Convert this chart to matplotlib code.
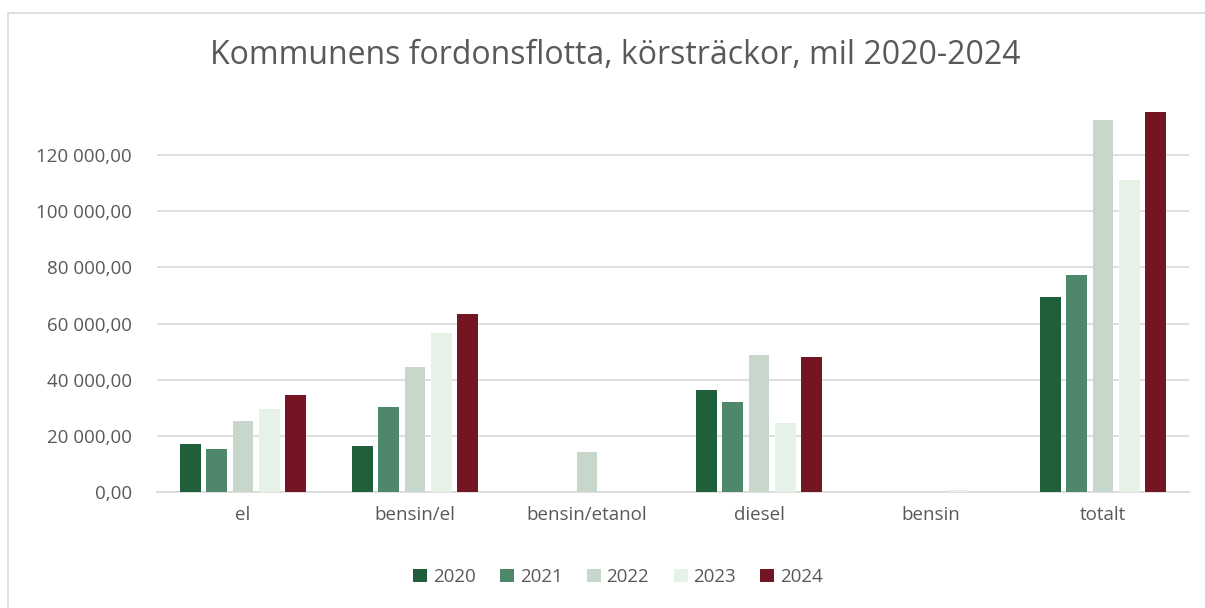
import matplotlib.pyplot as plt
import matplotlib.patches as mpatches
from matplotlib.ticker import FuncFormatter
import numpy as np

plt.rcParams['font.family'] = ['Open Sans', 'DejaVu Sans']

categories = ["el", "bensin/el", "bensin/etanol", "diesel", "bensin", "totalt"]
years = ["2020", "2021", "2022", "2023", "2024"]
v2020 = [17100, 16400, 0, 36300, 0, 69500]
v2021 = [15300, 30300, 0, 32000, 0, 77300]
v2022 = [25300, 44500, 14200, 48800, 0, 132500]
v2023 = [29500, 56600, 0, 24600, 700, 111100]
v2024 = [34500, 63400, 0, 48100, 0, 135200]
series = [v2020, v2021, v2022, v2023, v2024]
colors = ["#215f3a", "#4f876a", "#c8d7cb", "#e6f1e8", "#731522"]

fig = plt.figure(figsize=(12.05, 6.08), dpi=100)
ax = fig.add_axes([157/1205, 116/608, 1032/1205, 393/608])

# chart border
fig.patches.append(mpatches.Rectangle((8/1205, -0.1), 1.2, (608-13)/608 + 0.1,
                                      transform=fig.transFigure, fill=False,
                                      edgecolor="#d9d9d9", linewidth=1.2))

x = np.arange(len(categories))
w = 0.122
step = 0.154
for i, (vals, c, yr) in enumerate(zip(series, colors, years)):
    ax.bar(x + (i - 2) * step, vals, width=w, color=c, label=yr, zorder=3)

ax.set_xlim(-0.5, len(categories) - 0.5)
ax.set_ylim(0, 140000)
ax.set_yticks(np.arange(0, 140000, 20000))
ax.yaxis.set_major_formatter(FuncFormatter(
    lambda v, p: "{:,.2f}".format(v).replace(",", " ").replace(".", ",")))
ax.set_xticks(x)
ax.set_xticklabels(categories)
ax.grid(axis="y", color="#d9d9d9", linewidth=1.2, zorder=0)
for s in ["top", "right", "left"]:
    ax.spines[s].set_visible(False)
ax.spines["bottom"].set_color("#d9d9d9")
ax.spines["bottom"].set_linewidth(1.2)
ax.tick_params(length=0, labelsize=13.5, labelcolor="#595959")
ax.tick_params(axis="x", pad=10)
ax.tick_params(axis="y", pad=18)

fig.text(615/1205, 1 - 55/608, "Kommunens fordonsflotta, körsträckor, mil 2020-2024",
         ha="center", va="center", fontsize=23, color="#595959")

fig.legend(loc="center", bbox_to_anchor=(618/1205, 1 - 577/608), ncol=5, frameon=False,
           fontsize=13.5, labelcolor="#595959", handlelength=0.75, handleheight=0.75,
           handletextpad=0.3, columnspacing=1.3)

fig.savefig("out.png", dpi=100, facecolor="white")
